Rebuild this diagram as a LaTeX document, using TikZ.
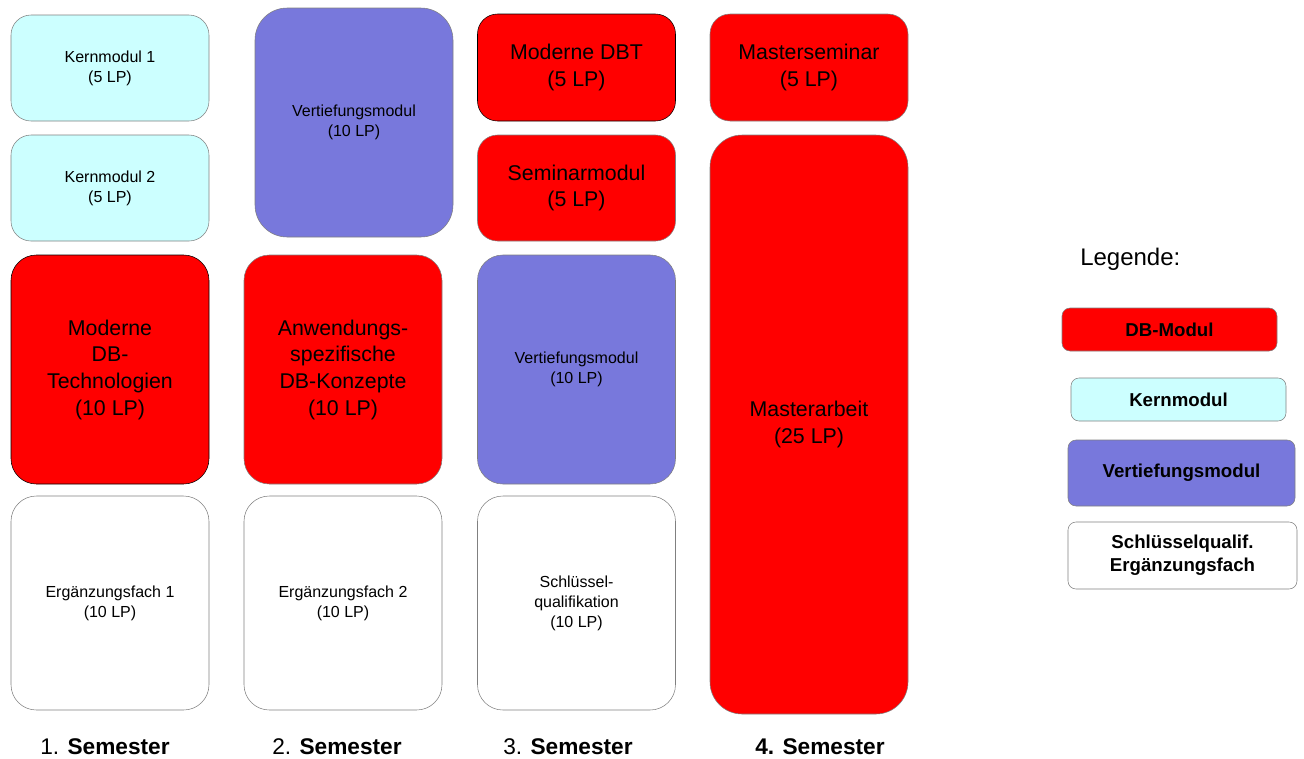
\documentclass[tikz,border=0pt]{standalone}
\usepackage{fontspec}
\setmainfont{Liberation Sans}
\definecolor{dbrot}{RGB}{255,0,0}
\definecolor{kerncyan}{RGB}{204,255,255}
\definecolor{vertlila}{RGB}{120,120,220}
\tikzset{
  modul/.style={draw=gray, rounded corners=19pt, align=center, inner sep=0pt, minimum width=148.5pt},
  klein/.style={font=\fontsize{12}{15}\selectfont},
  gross/.style={font=\fontsize{16}{20}\selectfont},
  dbmod/.style={modul, fill=dbrot, gross},
  kernmod/.style={modul, fill=kerncyan, klein, rounded corners=15pt, minimum height=79.5pt},
  vertmod/.style={modul, fill=vertlila, klein, minimum height=171.75pt},
  wahlmod/.style={modul, fill=white, klein, minimum height=160.5pt},
  legbox/.style={draw=gray, rounded corners=6pt, align=center, inner sep=0pt, font=\fontsize{14}{17.5}\selectfont\bfseries},
  semester/.style={anchor=base, inner sep=0pt, font=\fontsize{17}{20}\selectfont}
}
\begin{document}
\begin{tikzpicture}[x=0.75pt, y=-0.75pt]
  \useasboundingbox (0,0) rectangle (1304,758);

  % 1. Semester
  \node [kernmod] (kern1) at (110,68) {Kernmodul 1\\(5 LP)};
  \node [kernmod] (kern2) at (110,188) {Kernmodul 2\\(5 LP)};
  \node [dbmod, draw=black, minimum height=171.75pt] (mdbt) at (110,369.5) {Moderne\\DB-\\Technologien\\(10 LP)};
  \node [wahlmod] (erg1) at (110,603) {Ergänzungsfach 1\\(10 LP)};

  % 2. Semester
  \node [vertmod, rounded corners=24pt] (vert1) at (354,122.5) {Vertiefungsmodul\\(10 LP)};
  \node [dbmod, minimum height=171.75pt] (anw) at (343,369.5) {Anwendungs-\\spezifische\\DB-Konzepte\\(10 LP)};
  \node [wahlmod] (erg2) at (343,603) {Ergänzungsfach 2\\(10 LP)};

  % 3. Semester
  \node [dbmod, draw=black, rounded corners=15pt, minimum height=80.25pt] (mdbt5) at (576.5,67.5) {Moderne DBT\\(5 LP)};
  \node [dbmod, rounded corners=15pt, minimum height=79.5pt] (sem) at (576.5,188) {Seminarmodul\\(5 LP)};
  \node [vertmod] (vert2) at (576.5,369.5) {Vertiefungsmodul\\(10 LP)};
  \node [wahlmod] (sq) at (576.5,603) {Schlüssel-\\qualifikation\\(10 LP)};

  % 4. Semester
  \node [dbmod, rounded corners=15pt, minimum height=80.25pt] (msem) at (809,67.5) {Masterseminar\\(5 LP)};
  \node [dbmod, rounded corners=24pt, minimum height=434.25pt] (marb) at (809,424.5) {Masterarbeit\\(25 LP)};

  % Semester labels
  \node [semester] (s1) at (105,754) {1. \textbf{Semester}};
  \node [semester] (s2) at (337,754) {2. \textbf{Semester}};
  \node [semester] (s3) at (568,754) {3. \textbf{Semester}};
  \node [semester] (s4) at (820,754) {\textbf{4. Semester}};

  % Legend
  \node [anchor=base west, inner sep=0pt, font=\fontsize{18}{20}\selectfont] (leg) at (1080,265) {Legende:};
  \node [legbox, fill=dbrot, minimum width=161.25pt, minimum height=32.25pt] (lgdb) at (1169.5,329.5) {DB-Modul};
  \node [legbox, fill=kerncyan, minimum width=161.25pt, minimum height=32.25pt] (lgkern) at (1178.5,399.5) {Kernmodul};
  \node [legbox, fill=vertlila, minimum width=170.25pt, minimum height=49.5pt] (lgvert) at (1181.5,473) {Vertiefungsmodul};
  \node [legbox, fill=white, minimum width=171.75pt, minimum height=50.25pt] (lgsq) at (1182.5,555.5) {Schlüsselqualif.\\Ergänzungsfach};
\end{tikzpicture}
\end{document}
